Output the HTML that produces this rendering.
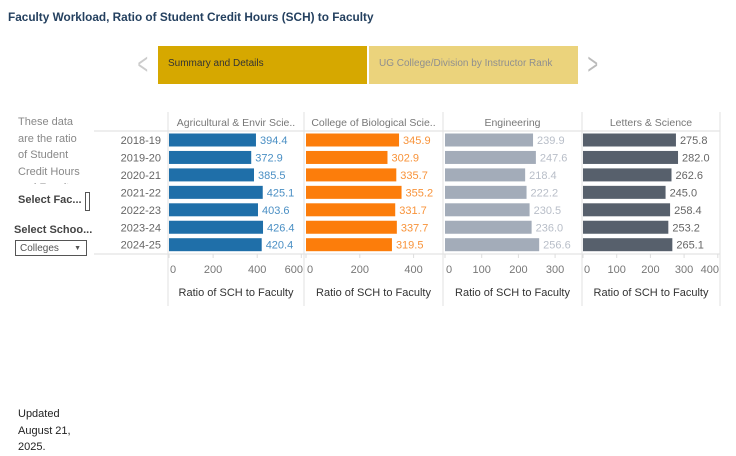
<!DOCTYPE html>
<html><head><meta charset="utf-8"><style>
body{margin:0;width:736px;height:454px;background:#fff;font-family:"Liberation Sans",sans-serif;position:relative;overflow:hidden}
.a{position:absolute}
</style></head><body>
<div class="a" style="left:8px;top:10px;font-size:11.8px;font-weight:bold;color:#24405f">Faculty Workload, Ratio of Student Credit Hours (SCH) to Faculty</div>
<div class="a" style="left:134px;top:48px;font-size:30px;color:#ccc;transform:scaleX(0.6)">&lt;</div>
<div class="a" style="left:158px;top:46px;width:209px;height:38px;background:#d6a800;font-size:10px;color:#333;line-height:36px;padding-left:10px;box-sizing:border-box">Summary and Details</div>
<div class="a" style="left:369px;top:46px;width:209px;height:38px;background:#ebd37c;font-size:10px;color:#8f8f8f;line-height:36px;padding-left:10px;box-sizing:border-box">UG College/Division by Instructor Rank</div>
<div class="a" style="left:584px;top:48px;font-size:30px;color:#bbb;transform:scaleX(0.6)">&gt;</div>
<div class="a" style="left:18px;top:114px;width:70px;height:70px;overflow:hidden;font-size:11px;line-height:16.5px;color:#888">These data are the ratio of Student Credit Hours and Faculty</div>
<div class="a" style="left:18px;top:194px;font-size:11px;font-weight:bold;color:#444">Select Fac...</div>
<div class="a" style="left:85px;top:192px;width:3px;height:17px;border:1px solid #555"></div>
<div class="a" style="left:14px;top:224px;font-size:11px;font-weight:bold;color:#444">Select Schoo...</div>
<div class="a" style="left:15px;top:240px;width:72px;height:16px;border:1px solid #555;font-size:10px;color:#555;line-height:16px;padding-left:4px;box-sizing:border-box">Colleges<span style="position:absolute;right:5px;font-size:7px">▼</span></div>
<div class="a" style="left:18px;top:406px;font-size:11px;line-height:16.5px;color:#222">Updated<br>August 21,<br>2025.</div>
<svg class="a" style="left:0;top:0" width="736" height="454" id="chart"></svg>
<script>
const categories=["2018-19","2019-20","2020-21","2021-22","2022-23","2023-24","2024-25"];
const panelNames=["Agricultural & Envir Scie..","College of Biological Scie..","Engineering","Letters & Science"];
const agValues=[394.4,372.9,385.5,425.1,403.6,426.4,420.4];
const bioValues=[345.9,302.9,335.7,355.2,331.7,337.7,319.5];
const engValues=[239.9,247.6,218.4,222.2,230.5,236.0,256.6];
const lsValues=[275.8,282.0,262.6,245.0,258.4,253.2,265.1];
const agTicks=[0,200,400,600];
const bioTicks=[0,200,400];
const engTicks=[0,100,200,300];
const lsTicks=[0,100,200,300,400];
const svg=document.getElementById('chart');
const NS='http://www.w3.org/2000/svg';
function mk(t,a){const e=document.createElementNS(NS,t);for(const k in a)e.setAttribute(k,a[k]);svg.appendChild(e);return e;}
const panels=[
 {x0:169,left:168,right:304,scale:0.2205,vals:agValues,ticks:agTicks,fill:'#1f6fa9',lab:'#4a8fc4'},
 {x0:306,left:304,right:443,scale:0.269,vals:bioValues,ticks:bioTicks,fill:'#fc7d0b',lab:'#f8933a'},
 {x0:445,left:443,right:582,scale:0.367,vals:engValues,ticks:engTicks,fill:'#a3acb9',lab:'#b8bec8'},
 {x0:583,left:582,right:720,scale:0.337,vals:lsValues,ticks:lsTicks,fill:'#57606c',lab:'#666'}];
const rowY=i=>140+i*17.45;
let l=mk('line',{x1:94,x2:720,y1:131,y2:131,stroke:'#ddd'});

l=mk('line',{x1:94,x2:720,y1:254,y2:254,stroke:'#ddd'});

categories.forEach((c,i)=>{const t=mk('text',{x:161,y:rowY(i)+4,'text-anchor':'end','font-size':11,fill:'#666'});t.textContent=c;
});
panels.forEach((p,pi)=>{
 const sx=v=>p.x0+v*p.scale;
 [p.left,p.right].forEach(x=>{const ln=mk('line',{x1:x,x2:x,y1:112,y2:306,stroke:'#e2e2e2'});
 });
 const h=mk('text',{x:(p.left+p.right)/2,y:126,'text-anchor':'middle','font-size':10.5,fill:'#777'});h.textContent=panelNames[pi];
 
 p.vals.forEach((v,i)=>{
  const r=mk('rect',{x:sx(0),y:rowY(i)-6.5,width:sx(v)-sx(0),height:13,fill:p.fill});
  
  const t=mk('text',{x:sx(v)+4,y:rowY(i)+4,'font-size':11,fill:p.lab});t.textContent=v.toFixed(1);
  
 });
 p.ticks.forEach((v,k)=>{
  const gx=mk('line',{x1:sx(v),x2:sx(v),y1:254,y2:258,stroke:'#ddd'});
  
  let anchor='middle',x=sx(v);
  if(v===0){anchor='start';x=sx(v)+1;}
  else if(x+10>p.right){anchor='end';x=p.right-1;}
  const t=mk('text',{x:x,y:273,'text-anchor':anchor,'font-size':11,fill:'#777'});t.textContent=v;
  
 });
 const at=mk('text',{x:(p.left+p.right)/2,y:296,'text-anchor':'middle','font-size':11,fill:'#333'});at.textContent='Ratio of SCH to Faculty';
 
});
</script>
</body></html>
